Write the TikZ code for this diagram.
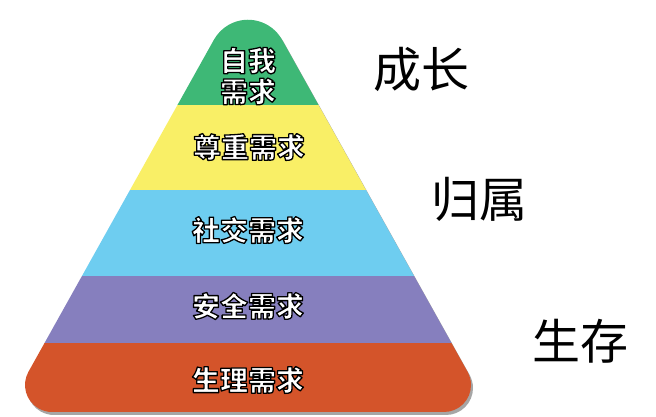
\documentclass[tikz,border=0pt]{standalone}
\usepackage{fontspec}
\newfontfamily\cjk{Noto Sans CJK SC}
\newfontfamily\cjkheavy{Noto Sans CJK SC}[UprightFont={* Black}]
\definecolor{lgreen}{RGB}{62,184,118}
\definecolor{lyellow}{RGB}{249,239,102}
\definecolor{lcyan}{RGB}{110,205,240}
\definecolor{lpurple}{RGB}{134,127,190}
\definecolor{lorange}{RGB}{212,84,42}
\newcommand\outltext[1]{\special{pdf:literal direct 1.3 w 1 j 2 Tr 0 G}#1\special{pdf:literal direct 0 Tr}}
\tikzset{
  layertext/.style={text=white,inner sep=0pt,align=center,font=\cjkheavy\fontsize{28}{31}\selectfont},
  sidetext/.style={text=black,inner sep=0pt,font=\cjk\fontsize{48}{52}\selectfont}
}
\begin{document}
\begin{tikzpicture}[x=1pt,y=1pt]
\useasboundingbox (0,0) rectangle (656,417);
\def\pyr{(282.0,377.3) arc[start angle=29.25,end angle=150.75,radius=39] -- (28.44,45.2) arc[start angle=150.75,end angle=270,radius=27] -- (444,5) arc[start angle=270,end angle=389.25,radius=27] -- cycle}
\fill[black,opacity=0.35] [shift={(2,-3)}] \pyr;
\begin{scope}
\clip \pyr;
\fill[lorange] (0,0) rectangle (656,74);
\fill[lpurple] (0,74) rectangle (656,141);
\fill[lcyan] (0,141) rectangle (656,227);
\fill[lyellow] (0,227) rectangle (656,312);
\fill[lgreen] (0,312) rectangle (656,417);
\end{scope}
\node[layertext] (self) at (248,341) {\outltext{自我}\\\outltext{需求}};
\node[layertext] (esteem) at (249,270) {\outltext{尊重需求}};
\node[layertext] (social) at (248,187) {\outltext{社交需求}};
\node[layertext] (safety) at (248,111) {\outltext{安全需求}};
\node[layertext] (phys) at (248,37) {\outltext{生理需求}};
\node[sidetext] (grow) at (421,348) {成长};
\node[sidetext] (belong) at (479,218) {归属};
\node[sidetext] (live) at (580,76) {生存};
\end{tikzpicture}
\end{document}
